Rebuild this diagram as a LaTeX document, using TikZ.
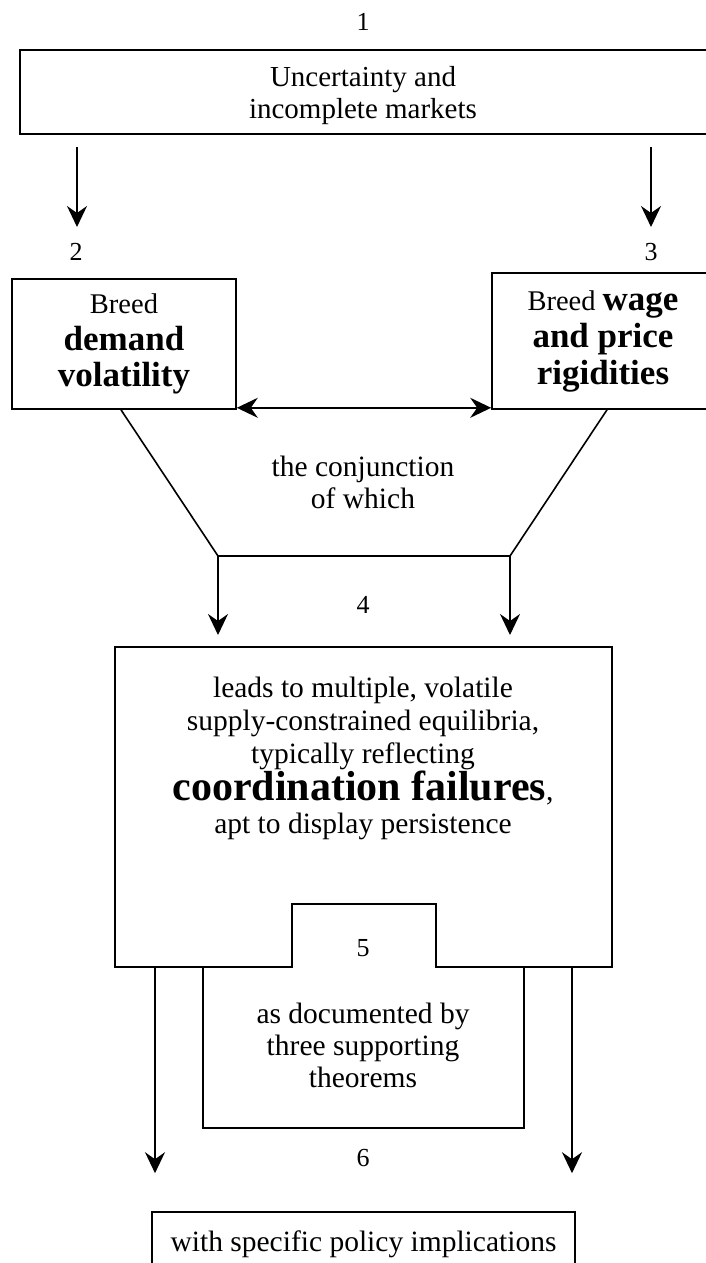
\documentclass[tikz,border=0pt]{standalone}
\usepackage{fontspec}
\setmainfont{Liberation Serif}
\usetikzlibrary{arrows.meta,calc}
\begin{document}
\begin{tikzpicture}[x=1pt,y=-1pt,line width=1.6pt,
  box/.style={draw,line width=1.6pt,inner sep=0pt,align=center},
  tip/.style={Stealth[length=21pt,width=20pt,inset=7pt]},
  arr/.style={-{Stealth[length=21pt,width=20pt,inset=7pt]},line width=1.6pt},
  arrtwo/.style={{Stealth[length=21pt,width=20pt,inset=7pt]}-{Stealth[length=21pt,width=20pt,inset=7pt]},line width=1.6pt},
  num/.style={font=\fontsize{26}{28}\selectfont,inner sep=0pt},
  txt/.style={align=center,inner sep=0pt}]
\useasboundingbox (0,0) rectangle (706,1263);
\clip (0,0) rectangle (706,1263);
% numbers
\node[num] (n1) at (363,22) {1};
\node[num] (n2) at (76,252) {2};
\node[num] (n3) at (651,252) {3};
\node[num] (n4) at (363,605) {4};
\node[num] (n5) at (363,948) {5};
\node[num] (n6) at (363,1158) {6};
% box 1
\node[box,line width=2.2pt,minimum width=688pt,minimum height=84pt] (b1) at (364,92) {};
\node[txt,font=\fontsize{29}{32}\selectfont] (t1) at (363,96) {Uncertainty and\\incomplete markets};
% box 2 and 3
\node[box,minimum width=224pt,minimum height=130pt,font=\fontsize{28.5}{36.5}\selectfont] (b2) at (124,344)
  {Breed\\{\fontsize{35}{36}\selectfont\bfseries demand}\\{\fontsize{35}{36}\selectfont\bfseries volatility}};
\node[box,minimum width=222pt,minimum height=136pt,font=\fontsize{28.5}{37}\selectfont] (b3) at (603,341)
  {Breed {\fontsize{35}{36}\selectfont\bfseries wage}\\{\fontsize{35}{36}\selectfont\bfseries and price}\\{\fontsize{35}{36}\selectfont\bfseries rigidities}};
% arrows from box 1
\coordinate (a2s) at (77,147);
\coordinate (a2e) at (77,227);
\coordinate (a3s) at (651,147);
\coordinate (a3e) at (651,227);
\draw[arr] (a2s) -- (a2e);
\draw[arr] (a3s) -- (a3e);
% double arrow
\draw[arrtwo] ([yshift=2pt]b2.south east) -- ([yshift=2pt]b3.south west);
% funnel
\node[txt,font=\fontsize{29.5}{32}\selectfont] (conj) at (363,482) {the conjunction\\of which};
\coordinate (j1) at (218,556);
\coordinate (j2) at (510,556);
\draw ([xshift=-3pt]b2.south) -- (j1) -- (j2) -- ([xshift=4pt]b3.south);
% box 4
\coordinate (t4) at (363,647);
\draw[arr] (j1) -- ([yshift=12pt]j1 |- t4);
\draw[arr] (j2) -- ([yshift=12pt]j2 |- t4);
\draw (115,647) -- (612,647) -- (612,967) -- (436,967) -- (436,904) -- (292,904) -- (292,967) -- (115,967) -- cycle;
\node[txt,font=\fontsize{29.5}{33}\selectfont] (b4) at (363,758)
  {leads to multiple, volatile\\supply-constrained equilibria,\\typically reflecting\\{\fontsize{42}{40}\selectfont\bfseries coordination failures},\\apt to display persistence};
% box 5
\draw (203,967) -- (203,1128) -- (524,1128) -- (524,967);
\node[txt,font=\fontsize{29.5}{32}\selectfont] (b5) at (363,1045) {as documented by\\three supporting\\theorems};
% arrows to box 6
\coordinate (l6s) at (155,967);
\coordinate (r6s) at (572,967);
\node[box,minimum width=423pt,minimum height=64pt,font=\fontsize{29.5}{32}\selectfont] (b6) at (363.5,1244) {with specific policy implications};
\draw[arr] (l6s) -- ([yshift=38pt]l6s |- b6.north);
\draw[arr] (r6s) -- ([yshift=38pt]r6s |- b6.north);
\end{tikzpicture}
\end{document}
